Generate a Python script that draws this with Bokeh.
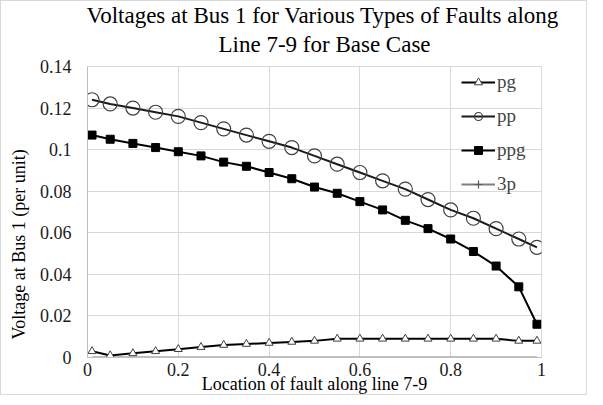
from bokeh.plotting import figure
from bokeh.models import Title, Legend, LegendItem, FixedTicker, ColumnDataSource
from bokeh.embed import file_html
from bokeh.resources import INLINE

# ---- data ----
location = [0.01, 0.05, 0.1, 0.15, 0.2, 0.25, 0.3, 0.35, 0.4, 0.45, 0.5,
            0.55, 0.6, 0.65, 0.7, 0.75, 0.8, 0.85, 0.9, 0.95, 0.99]
pg = [0.003, 0.001, 0.002, 0.003, 0.004, 0.005, 0.006, 0.0065, 0.007, 0.0075, 0.008,
      0.009, 0.009, 0.009, 0.009, 0.009, 0.009, 0.009, 0.009, 0.008, 0.008]
pp = [0.124, 0.122, 0.120, 0.118, 0.116, 0.113, 0.110, 0.107, 0.104, 0.101, 0.097,
      0.093, 0.089, 0.085, 0.081, 0.076, 0.071, 0.067, 0.062, 0.057, 0.053]
ppg = [0.107, 0.105, 0.103, 0.101, 0.099, 0.097, 0.094, 0.092, 0.089, 0.086, 0.082,
       0.079, 0.075, 0.071, 0.066, 0.062, 0.057, 0.051, 0.044, 0.034, 0.016]
p3 = [0.0, 0.0, 0.0, 0.0, 0.0, 0.0, 0.0, 0.0, 0.0, 0.0, 0.0,
      0.0, 0.0, 0.0, 0.0, 0.0, 0.0, 0.0, 0.0, 0.0, 0.0]
series_names = ["pg", "pp", "ppg", "3p"]

x_ticks = [0, 0.2, 0.4, 0.6, 0.8, 1]
x_tick_labels = ["0", "0.2", "0.4", "0.6", "0.8", "1"]
y_ticks = [0, 0.02, 0.04, 0.06, 0.08, 0.1, 0.12, 0.14]
y_tick_labels = ["0", "0.02", "0.04", "0.06", "0.08", "0.1", "0.12", "0.14"]

title_line1 = "Voltages at Bus 1 for Various Types of  Faults along"
title_line2 = "Line 7-9 for Base Case"
x_title = "Location of fault along line 7-9"
y_title = "Voltage at Bus 1 (per unit)"

FONT = "Liberation Serif"
GRID = "#d9d9d9"

p = figure(width=587, height=395, output_backend="svg", toolbar_location=None,
           x_range=(0, 1), y_range=(0, 0.14),
           min_border_left=86, min_border_right=47, min_border_top=65, min_border_bottom=0)
p.title.visible = False
p.styles = {"border": "1px solid #d9d9d9"}

t2 = Title(text=title_line2, align="left", vertical_align="top", text_font=FONT,
           text_font_size="23px", text_font_style="normal", text_color="#000000",
           offset=131, standoff=16)
t1 = Title(text=title_line1, align="left", vertical_align="top", text_font=FONT,
           text_font_size="23px", text_font_style="normal", text_color="#000000",
           offset=-1, standoff=-12)
p.add_layout(t2, "above")
p.add_layout(t1, "above")

# axes
for ax in (p.xaxis[0], p.yaxis[0]):
    ax.major_tick_line_color = None
    ax.minor_tick_line_color = None
    ax.major_tick_out = 0
    ax.major_tick_in = 0
    ax.minor_tick_out = 0
    ax.minor_tick_in = 0
    ax.axis_line_color = "#bfbfbf"
    ax.major_label_text_font = FONT
    ax.major_label_text_font_size = "18px"
    ax.major_label_text_color = "#1a1a1a"
    ax.axis_label_text_font = FONT
    ax.axis_label_text_font_size = "18px"
    ax.axis_label_text_font_style = "normal"
    ax.axis_label_text_color = "#000000"

p.xaxis.ticker = FixedTicker(ticks=x_ticks)
p.xaxis.major_label_overrides = {t: l for t, l in zip(x_ticks, x_tick_labels)}
p.yaxis.ticker = FixedTicker(ticks=y_ticks)
p.yaxis.major_label_overrides = {t: l for t, l in zip(y_ticks, y_tick_labels)}
p.xaxis.axis_label = x_title
p.xaxis.major_label_standoff = 5
p.xaxis.axis_label_standoff = -5
p.yaxis.major_label_standoff = 16

# y axis title as a side title so it can sit lower, like the reference
ty = Title(text=y_title, align="left", vertical_align="top", text_font=FONT,
           text_font_size="18px", text_font_style="normal", text_color="#000000",
           offset=18, standoff=12)
p.add_layout(ty, "left")

p.xgrid.grid_line_color = GRID
p.ygrid.grid_line_color = GRID
p.xgrid.ticker = FixedTicker(ticks=x_ticks)
p.ygrid.ticker = FixedTicker(ticks=y_ticks)
p.outline_line_color = GRID

src = ColumnDataSource(dict(x=location, pg=pg, pp=pp, ppg=ppg, p3=p3))

# 3p (at zero)
l3 = p.line("x", "p3", source=src, line_color="#7f7f7f", line_width=2)
m3 = p.scatter("x", "p3", source=src, marker="cross", size=12, line_color="#595959",
               line_width=1.2, visible=False)

# pg
l1 = p.line("x", "pg", source=src, line_color="#000000", line_width=2)
m1 = p.scatter("x", "pg", source=src, marker="triangle", size=8, line_color="#404040",
               fill_color="white", line_width=1)
# pp
l2 = p.line("x", "pp", source=src, line_color="#1a1a1a", line_width=2)
m2 = p.scatter("x", "pp", source=src, marker="circle", size=14, line_color="#404040",
               fill_color=None, line_width=1.2)
# ppg
lp = p.line("x", "ppg", source=src, line_color="#000000", line_width=2)
mp = p.scatter("x", "ppg", source=src, marker="square", size=8, line_color="#000000",
               fill_color="#000000", line_width=1)

legend = Legend(items=[
    LegendItem(label=series_names[0], renderers=[l1, m1]),
    LegendItem(label=series_names[1], renderers=[l2, m2]),
    LegendItem(label=series_names[2], renderers=[lp, mp]),
    LegendItem(label=series_names[3], renderers=[l3, m3]),
], location="top_right", padding=0, margin=5, spacing=12,
    label_height=20, glyph_height=20, glyph_width=34, label_standoff=2, label_width=39,
    label_text_font=FONT, label_text_font_size="19px",
    border_line_color=None, background_fill_alpha=0, inactive_fill_alpha=0)
p.add_layout(legend)

open("out.html", "w").write(file_html(p, INLINE))
